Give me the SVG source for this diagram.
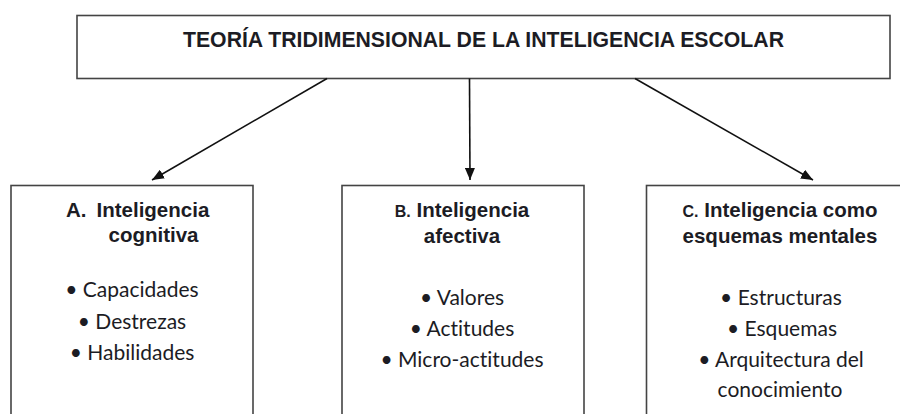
<svg xmlns="http://www.w3.org/2000/svg" width="900" height="414" viewBox="0 0 900 414">
<defs>
<marker id="ah" markerUnits="userSpaceOnUse" markerWidth="12" markerHeight="10" refX="12" refY="5" orient="auto">
<path d="M0,0 L12,5 L0,10 z" fill="#111"/>
</marker>
<style>
.box{fill:#fff;stroke:#444;stroke-width:1.6}
.ttl{font-family:"Liberation Sans",Arial,sans-serif;font-weight:bold;font-size:22px;fill:#1c1c24;text-anchor:middle}
.hd{font-family:"Liberation Sans",Arial,sans-serif;font-weight:bold;font-size:20.5px;fill:#1c1c24}
.sm{font-size:16px}
.bl{font-family:Lato,"Open Sans",sans-serif;font-size:21px;fill:#1c1c24;text-anchor:middle;font-variant-ligatures:none;font-feature-settings:"liga" 0}
.con{stroke:#111;stroke-width:1.6;fill:none;marker-end:url(#ah)}
</style>
</defs>
<rect width="900" height="414" fill="#fff"/>
<g id="top">
<rect class="box" x="77" y="15.5" width="813" height="63"/>
<text class="ttl" x="483.5" y="46.5" textLength="601" lengthAdjust="spacingAndGlyphs">TEORÍA TRIDIMENSIONAL DE LA INTELIGENCIA ESCOLAR</text>
</g>
<g id="connectors">
<line class="con" x1="327" y1="78.5" x2="152" y2="180"/>
<line class="con" x1="469.5" y1="78.5" x2="470" y2="180"/>
<line class="con" x1="635" y1="78.5" x2="813" y2="180"/>
</g>
<g id="nodeA">
<rect class="box" x="11" y="185.5" width="242" height="240"/>
<text class="hd" x="66" y="216.5">A.</text>
<text class="hd" x="96.5" y="216.5">Inteligencia</text>
<text class="hd" x="153.5" y="242" text-anchor="middle">cognitiva</text>
<text class="bl" x="132" y="297">• Capacidades</text>
<text class="bl" x="132" y="328.5">• Destrezas</text>
<text class="bl" x="132" y="360">• Habilidades</text>
</g>
<g id="nodeB">
<rect class="box" x="342" y="185.5" width="242" height="240"/>
<text class="hd" x="462" y="216.5" text-anchor="middle"><tspan class="sm">B.</tspan> Inteligencia</text>
<text class="hd" x="462" y="243" text-anchor="middle">afectiva</text>
<text class="bl" x="462" y="305">• Valores</text>
<text class="bl" x="462" y="335.5">• Actitudes</text>
<text class="bl" x="462" y="366.5">• Micro-actitudes</text>
</g>
<g id="nodeC">
<rect class="box" x="646.5" y="185.5" width="270" height="240"/>
<text class="hd" x="780" y="216.5" text-anchor="middle"><tspan class="sm">C.</tspan> Inteligencia como</text>
<text class="hd" x="780" y="243" text-anchor="middle">esquemas mentales</text>
<text class="bl" x="781" y="305">• Estructuras</text>
<text class="bl" x="782" y="335.5">• Esquemas</text>
<text class="bl" x="781" y="366.5">• Arquitectura del</text>
<text class="bl" x="780" y="397">conocimiento</text>
</g>
</svg>
